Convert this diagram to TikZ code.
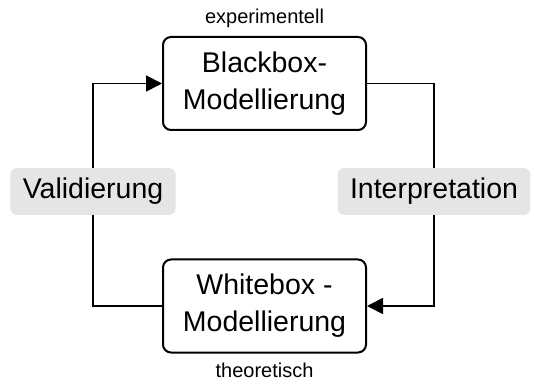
\documentclass[tikz,border=0pt]{standalone}
\usepackage{fontspec}
\setmainfont{Liberation Sans}
\usetikzlibrary{positioning}
\usetikzlibrary{arrows.meta}
\tikzstyle{modell} = [draw,
rounded corners=8pt,
line width=2pt,
minimum width=203pt,
minimum height=93pt,
align=center,
font=\fontsize{28.5}{37}\selectfont]
\tikzstyle{schritt} = [fill=black!10,
rounded corners=7pt,
inner xsep=12.5pt,
minimum height=47pt,
font=\fontsize{28.5}{37}\selectfont]
\tikzstyle{line} = [draw,
line width=1.8pt,
-{Triangle[length=16pt,width=16pt]}]

\begin{document}
\begin{tikzpicture}[x=1pt, y=1pt,
	notiz/.style={inner sep=0pt, outer sep=0pt, font=\fontsize{20}{24}\selectfont}]
	\useasboundingbox (0,0) rectangle (534,385);
	\node [modell] (Black) at (264.5,301.5) {Blackbox-\\Modellierung};
	\node [modell] (White) at (264.5,79) {Whitebox -\\Modellierung};
	\node [schritt] (Valid) at (93,193.5) {Validierung};
	\node [schritt] (Interp) at (434,193.5) {Interpretation};
	\node [notiz, above=8pt of Black] (Exp) {experimentell};
	\node [notiz, below=10pt of White] (Theo) {theoretisch};
	%% Kreislauf links
	\path [draw, line width=1.8pt] (White.west) -| (Valid.south);
	\path [line] (Valid.north) |- (Black.west);
	%% Kreislauf rechts
	\path [draw, line width=1.8pt] (Black.east) -| (Interp.north);
	\path [line] (Interp.south) |- (White.east);
\end{tikzpicture}
\end{document}
